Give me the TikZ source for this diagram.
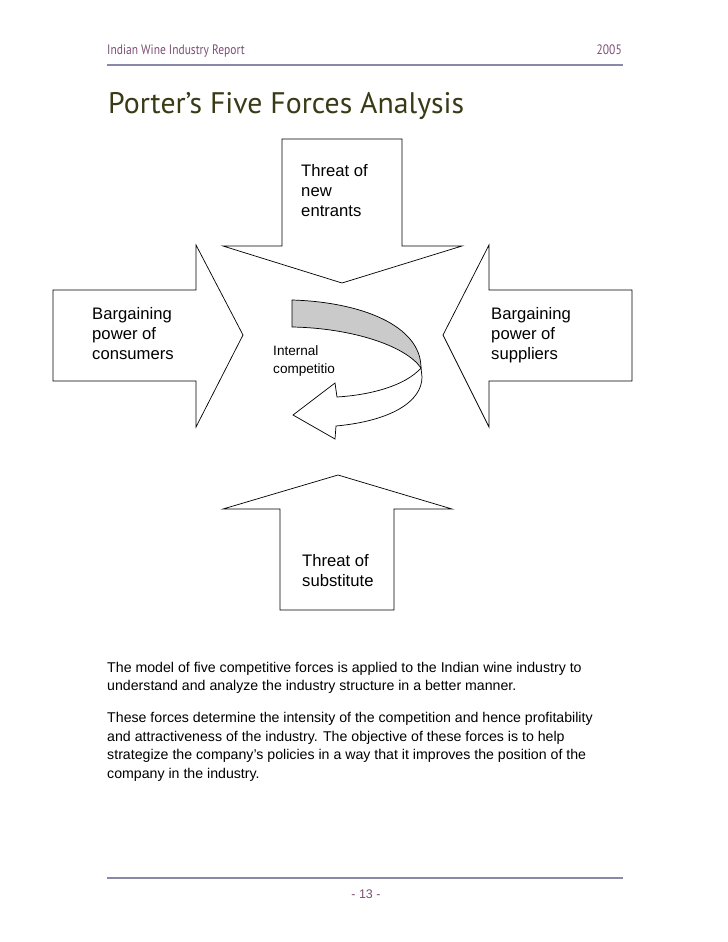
\documentclass[tikz,border=0pt]{standalone}
\usepackage{fontspec}
\setmainfont{Liberation Sans}
\newfontfamily\headfont[FakeStretch=0.84]{PT Sans}
\newfontfamily\titlefont{PT Sans}
\usetikzlibrary{positioning}
\definecolor{headpurple}{RGB}{125,78,118}
\definecolor{titleolive}{RGB}{58,58,22}
\definecolor{ruleblue}{RGB}{138,136,168}
\definecolor{bandgray}{RGB}{202,202,202}
\tikzset{
  force arrow/.style={draw=black,fill=white,line width=0.6pt,line join=miter},
  force label/.style={anchor=base west,inner sep=0pt,align=left,
    font=\fontsize{14}{16.4}\selectfont},
  rivalry label/.style={anchor=base west,inner sep=0pt,align=left,
    font=\fontsize{11.4}{15}\selectfont},
  page rule/.style={draw=ruleblue,line width=0.9pt},
  body text/.style={anchor=base west,inner sep=0pt,align=left,
    font=\fontsize{11.9}{15.5}\selectfont}
}
\begin{document}
\begin{tikzpicture}[x=0.8407pt,y=-0.8407pt]
  \useasboundingbox[fill=white] (0,0) rectangle (728,942);
  % page header
  \node[anchor=base west,inner sep=0pt,text=headpurple,font=\headfont\fontsize{11.5}{13}\selectfont]
    (header) at (107,54) {Indian Wine Industry Report};
  \node[anchor=base east,inner sep=0pt,text=headpurple,font=\headfont\fontsize{11.5}{13}\selectfont]
    (year) at (622,54) {2005};
  \draw[page rule] (107,65) -- (623,65);
  \node[anchor=base west,inner sep=0pt,text=titleolive,font=\titlefont\fontsize{25}{28}\selectfont]
    (title) at (108,113) {Porter’s Five Forces Analysis};

  % the four straight forces
  \draw[force arrow] (282,139) -- (402,139) -- (402,246) -- (462,246)
    -- (342,283) -- (223,246) -- (282,246) -- cycle;
  \draw[force arrow] (53,290) -- (196,290) -- (196,245) -- (243,335)
    -- (196,427) -- (196,381) -- (53,381) -- cycle;
  \draw[force arrow] (632,290) -- (489,290) -- (489,245) -- (443,335)
    -- (489,427) -- (489,381) -- (632,381) -- cycle;
  \draw[force arrow] (280,610) -- (394,610) -- (394,509) -- (452,509)
    -- (338,475) -- (223,509) -- (280,509) -- cycle;

  % internal competition (curved arrow)
  \draw[force arrow,fill=bandgray] (292,300) .. controls (360,302) and (421,325) .. (421,368)
    .. controls (405,345) and (350,328) .. (292,327) -- cycle;
  \draw[force arrow] (421,368) .. controls (405,386) and (370,395) .. (337,397)
    -- (335,383) -- (293,415) -- (335,439) -- (336,426)
    .. controls (390,421) and (422,402) .. (422,377) -- cycle;

  \node[force label] (entrants) at (301,216) {Threat of\\new\\entrants};
  \node[force label] (consumers) at (92,359) {Bargaining\\power of\\consumers};
  \node[force label] (suppliers) at (491,359) {Bargaining\\power of\\suppliers};
  \node[force label] (substitutes) at (302,586) {Threat of\\substitute};
  \node[rivalry label] (rivalry) at (273,373) {Internal\\competitio};

  % text below the diagram
  \node[body text] (model) at (107,690.5)
    {The model of five competitive forces is applied to the Indian wine industry to\\
     understand and analyze the industry structure in a better manner.};
  \node[body text] (forces) at (107,778)
    {These forces determine the intensity of the competition and hence profitability\\
     and attractiveness of the industry. The objective of these forces is to help\\
     strategize the company’s policies in a way that it improves the position of the\\
     company in the industry.};

  % page footer
  \draw[page rule] (107,878) -- (623,878);
  \node[anchor=base,inner sep=0pt,text=headpurple,font=\fontsize{10.5}{12}\selectfont]
    (page) at (366,898) {- 13 -};
\end{tikzpicture}
\end{document}
